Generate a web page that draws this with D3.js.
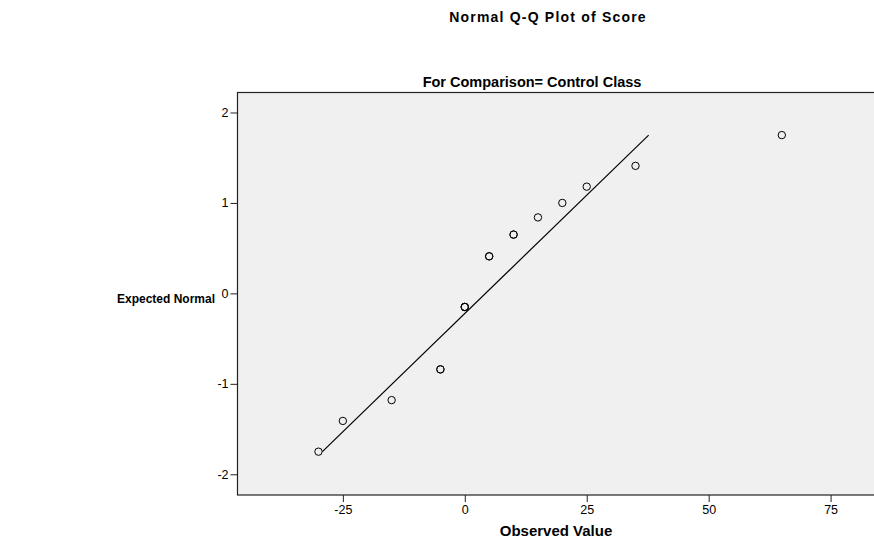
<!DOCTYPE html>
<html>
<head>
<meta charset="utf-8">
<script src="https://cdn.jsdelivr.net/npm/d3@7"></script>
<style>
  body { margin: 0; background: #fff; }
  text { font-family: "Liberation Sans", Arial, sans-serif; fill: #000; }
</style>
</head>
<body>
<div id="chart"></div>
<script>
// data
const observed = [-30, -25, -15, -5, 0, 5, 10, 15, 20, 25, 35, 65];
const expected = [-1.75, -1.41, -1.18, -0.84, -0.15, 0.41, 0.65, 0.84, 1.00, 1.18, 1.41, 1.75];
const counts = [1, 1, 1, 2, 3, 2, 2, 1, 1, 1, 1, 1];   // tied scores are drawn on top of each other
const fitObserved = [-29.2, 37.7];
const fitExpected = [-1.75, 1.75];
const xTicks = [-25, 0, 25, 50, 75];
const yTicks = [-2, -1, 0, 1, 2];

const W = 874, H = 542;
const plot = {left: 237.5, top: 92.5, right: 874, bottom: 495};

const svg = d3.select("#chart").append("svg").attr("width", W).attr("height", H);

const xScale = d3.scaleLinear().domain([-46.6, 83.9]).range([plot.left, plot.right]);
const yScale = d3.scaleLinear().domain([-2.229, 2.221]).range([plot.bottom, plot.top]);

// panel
svg.append("rect")
    .attr("x", plot.left).attr("y", plot.top)
    .attr("width", plot.right - plot.left + 10)
    .attr("height", plot.bottom - plot.top)
    .attr("fill", "#f0f0f0")
    .attr("stroke", "#222").attr("stroke-width", 1.2);

// axes (plain hyphen minus like the original)
const fmt = d => String(d);

const yAxis = d3.axisLeft(yScale).tickValues(yTicks).tickFormat(fmt).tickSize(7).tickSizeOuter(0).tickPadding(2);
const gy = svg.append("g").attr("transform", "translate(" + plot.left + ",0)").call(yAxis);
gy.select(".domain").remove();
gy.selectAll("line").attr("stroke", "#222");
gy.selectAll("text").style("font-size", "12.5px").attr("font-family", null);

const xAxis = d3.axisBottom(xScale).tickValues(xTicks).tickFormat(fmt).tickSize(7).tickSizeOuter(0).tickPadding(3);
const gx = svg.append("g").attr("transform", "translate(0," + plot.bottom + ")").call(xAxis);
gx.select(".domain").remove();
gx.selectAll("line").attr("stroke", "#222");
gx.selectAll("text").style("font-size", "12.5px").attr("font-family", null);

// reference line
svg.append("line")
    .attr("x1", xScale(fitObserved[0])).attr("y1", yScale(fitExpected[0]))
    .attr("x2", xScale(fitObserved[1])).attr("y2", yScale(fitExpected[1]))
    .attr("stroke", "#000").attr("stroke-width", 1.2);

// points (one circle per case)
const cases = [];
observed.forEach((v, i) => { for (let k = 0; k < counts[i]; k++) cases.push({x: v, y: expected[i]}); });

svg.append("g").selectAll("circle").data(cases).enter()
    .append("circle")
    .attr("cx", d => xScale(d.x))
    .attr("cy", d => yScale(d.y))
    .attr("r", 3.7)
    .attr("fill", "none")
    .attr("stroke", "#000")
    .attr("stroke-width", 1);

// titles
svg.append("text").attr("x", 548).attr("y", 22).attr("text-anchor", "middle")
    .style("font-size", "14px").style("font-weight", "bold").style("letter-spacing", "1.2px")
    .text("Normal Q-Q Plot of Score");

svg.append("text").attr("x", 532).attr("y", 87).attr("text-anchor", "middle")
    .style("font-size", "14.5px").style("font-weight", "bold")
    .text("For Comparison= Control Class");

svg.append("text").attr("x", 166).attr("y", 303).attr("text-anchor", "middle")
    .style("font-size", "12px").style("font-weight", "bold")
    .text("Expected Normal");

svg.append("text").attr("x", 556).attr("y", 536).attr("text-anchor", "middle")
    .style("font-size", "15px").style("font-weight", "bold")
    .text("Observed Value");
</script>
</body>
</html>
